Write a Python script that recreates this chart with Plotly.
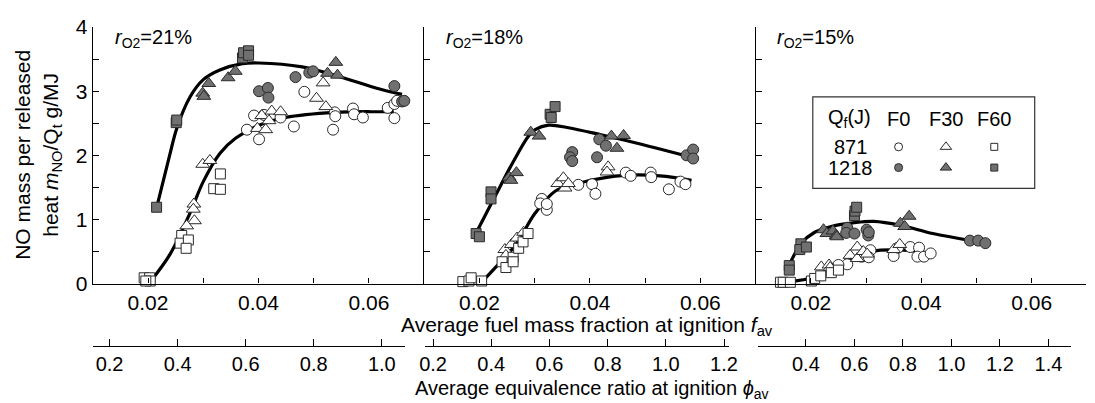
import plotly.graph_objects as go

# ---------------- data (f_av, NO g/MJ) ----------------
# panel r_O2 = 21 %
p21_F0_871 = [(0.0392, 2.62), (0.0379, 2.40), (0.0401, 2.25), (0.0410, 2.63), (0.0440, 2.59),
              (0.0464, 2.45), (0.0483, 2.99), (0.0535, 2.40), (0.0538, 2.67), (0.0539, 2.61),
              (0.0571, 2.73), (0.0573, 2.64), (0.0589, 2.59), (0.0634, 2.74), (0.0646, 2.80),
              (0.0651, 2.85), (0.0646, 2.58)]
p21_F30_871 = [(0.0299, 1.86), (0.0312, 1.92), (0.0283, 1.24), (0.0282, 1.16), (0.0284, 0.98),
               (0.0270, 0.90), (0.0398, 2.42), (0.0406, 2.62), (0.0413, 2.40), (0.0419, 2.54),
               (0.0424, 2.69), (0.0440, 2.68), (0.0505, 2.89), (0.0517, 3.13), (0.0522, 2.76)]
p21_F60_871 = [(0.0193, 0.09), (0.0203, 0.09), (0.0204, 0.04), (0.0196, 0.04), (0.0261, 0.75),
               (0.0258, 0.63), (0.0273, 0.68), (0.0269, 0.55), (0.0319, 1.48), (0.0331, 1.47),
               (0.0331, 1.71)]
p21_F0_1218 = [(0.0401, 3.00), (0.0417, 3.05), (0.0418, 2.90), (0.0467, 3.22), (0.0492, 3.29),
               (0.0499, 3.31), (0.0646, 3.08), (0.0660, 2.84), (0.0664, 2.85)]
p21_F30_1218 = [(0.0310, 3.12), (0.0299, 2.97), (0.0301, 2.92), (0.0345, 3.21), (0.0358, 3.31),
                (0.0525, 3.28), (0.0540, 3.45), (0.0543, 3.25)]
p21_F60_1218 = [(0.02155, 1.19), (0.0251, 2.51), (0.0252, 2.55), (0.0371, 3.52), (0.0373, 3.60),
                (0.0382, 3.63), (0.0382, 3.56)]
p21_fit_871 = [(0.0205, 0.04), (0.0240, 0.46), (0.0276, 1.10), (0.0300, 1.59), (0.0330, 2.03),
               (0.0359, 2.27), (0.0401, 2.47), (0.0449, 2.59), (0.0538, 2.67), (0.0621, 2.68),
               (0.0645, 2.68)]
p21_fit_1218 = [(0.0216, 1.20), (0.0240, 2.03), (0.0252, 2.42), (0.0276, 2.91), (0.0300, 3.18),
                (0.0330, 3.33), (0.0371, 3.43), (0.0401, 3.44), (0.0479, 3.38), (0.0538, 3.25),
                (0.0621, 3.03), (0.0660, 2.95)]

# panel r_O2 = 18 %
p18_F0_871 = [(0.0313, 1.32), (0.0310, 1.25), (0.0322, 1.15), (0.0322, 1.24), (0.0379, 1.54),
              (0.0404, 1.55), (0.0410, 1.40), (0.0465, 1.73), (0.0474, 1.68), (0.0510, 1.73),
              (0.0511, 1.66), (0.0543, 1.47), (0.0564, 1.59), (0.0573, 1.55)]
p18_F30_871 = [(0.0342, 1.56), (0.0352, 1.65), (0.0355, 1.49), (0.0361, 1.56), (0.0433, 1.82),
               (0.0431, 1.74), (0.0246, 0.53), (0.0248, 0.44), (0.0258, 0.61), (0.0268, 0.71),
               (0.0280, 0.80)]
p18_F60_871 = [(0.0170, 0.03), (0.0181, 0.04), (0.0185, 0.09), (0.0204, 0.04), (0.0241, 0.34),
               (0.0248, 0.25), (0.0261, 0.41), (0.0261, 0.34), (0.0271, 0.55), (0.0279, 0.65),
               (0.0288, 0.78)]
p18_F0_1218 = [(0.0368, 2.05), (0.0364, 1.97), (0.0368, 1.91), (0.0417, 2.25), (0.0429, 2.15),
               (0.0413, 1.97), (0.0575, 2.00), (0.0587, 2.09), (0.0587, 1.95)]
p18_F30_1218 = [(0.0254, 1.66), (0.0257, 1.61), (0.0267, 1.73), (0.0293, 2.36), (0.0308, 2.30),
                (0.0439, 2.30), (0.0461, 2.31), (0.0449, 2.11)]
p18_F60_1218 = [(0.0194, 0.78), (0.0200, 0.73), (0.0221, 1.43), (0.0221, 1.32), (0.0328, 2.64),
                (0.0330, 2.59), (0.0337, 2.76)]
p18_fit_871 = [(0.0206, 0.04), (0.0230, 0.26), (0.0266, 0.61), (0.0301, 1.10), (0.0337, 1.44),
               (0.0373, 1.55), (0.0420, 1.64), (0.0468, 1.69), (0.0527, 1.68), (0.0584, 1.61)]
p18_fit_1218 = [(0.0197, 0.84), (0.0230, 1.39), (0.0260, 1.88), (0.0289, 2.30), (0.0301, 2.40),
                (0.0325, 2.47), (0.0361, 2.43), (0.0420, 2.32), (0.0480, 2.20), (0.0575, 1.99)]

# panel r_O2 = 15 %
p15_F0_871 = [(0.0266, 0.30), (0.0250, 0.29), (0.0292, 0.42), (0.0308, 0.52), (0.0305, 0.41),
              (0.0350, 0.43), (0.0358, 0.56), (0.0380, 0.57), (0.0396, 0.56), (0.0393, 0.42),
              (0.0405, 0.42), (0.0417, 0.47)]
p15_F30_871 = [(0.0219, 0.26), (0.0233, 0.29), (0.0235, 0.25), (0.0271, 0.44), (0.0284, 0.57),
               (0.0284, 0.39), (0.0295, 0.50), (0.0302, 0.46), (0.0350, 0.53), (0.0361, 0.61)]
p15_F60_871 = [(0.0145, 0.02), (0.0150, 0.02), (0.0163, 0.02), (0.0201, 0.04), (0.0207, 0.08),
               (0.0218, 0.12), (0.0237, 0.17), (0.0250, 0.21)]
p15_F0_1218 = [(0.0266, 0.87), (0.0264, 0.79), (0.0279, 0.78), (0.0301, 0.84), (0.0304, 0.75),
               (0.0305, 0.80), (0.0488, 0.67), (0.0503, 0.67), (0.0516, 0.63)]
p15_F30_1218 = [(0.0223, 0.84), (0.0229, 0.78), (0.0240, 0.82), (0.0246, 0.75), (0.0247, 0.73),
                (0.0362, 0.94), (0.0370, 0.89), (0.0378, 1.05)]
p15_F60_1218 = [(0.0161, 0.28), (0.0161, 0.21), (0.0182, 0.62), (0.0180, 0.53), (0.0192, 0.57),
                (0.0279, 1.06), (0.0280, 1.13), (0.0283, 1.19)]
p15_fit_871 = [(0.0157, 0.03), (0.0207, 0.10), (0.0255, 0.31), (0.0291, 0.46), (0.0326, 0.52),
               (0.0368, 0.52), (0.0409, 0.48)]
p15_fit_1218 = [(0.0161, 0.29), (0.0183, 0.63), (0.0207, 0.80), (0.0237, 0.89), (0.0279, 0.95),
                (0.0314, 0.97), (0.0362, 0.91), (0.0421, 0.78), (0.0490, 0.67)]

panel_labels = ["21%", "18%", "15%"]
phi_ticks_21 = [0.2, 0.4, 0.6, 0.8, 1.0]
phi_ticks_18 = [0.2, 0.4, 0.6, 0.8, 1.0, 1.2]
phi_ticks_15 = [0.4, 0.6, 0.8, 1.0, 1.2, 1.4]
legend_rows = ["871", "1218"]
legend_cols = ["F0", "F30", "F60"]

# ---------------- styling ----------------
FONT = "Arial, Liberation Sans, sans-serif"
GRAY = "#707070"
EDGE = "#2a2a2a"
W, H = 1095, 403
FS = 21

def px(xp):
    return xp / W

def py(yp):
    return (H - yp) / H

sym = {"F0": "circle", "F30": "triangle-up", "F60": "square"}
size = {"F0": 11, "F30": 12, "F60": 10}
leg_size = {"F0": 8, "F30": 10, "F60": 7}

fig = go.Figure()

panels = [
    (p21_F0_871, p21_F30_871, p21_F60_871, p21_F0_1218, p21_F30_1218, p21_F60_1218, p21_fit_871, p21_fit_1218),
    (p18_F0_871, p18_F30_871, p18_F60_871, p18_F0_1218, p18_F30_1218, p18_F60_1218, p18_fit_871, p18_fit_1218),
    (p15_F0_871, p15_F30_871, p15_F60_871, p15_F0_1218, p15_F30_1218, p15_F60_1218, p15_fit_871, p15_fit_1218),
]

for i, pdat in enumerate(panels):
    xa = "x" if i == 0 else f"x{i+1}"
    ya = "y" if i == 0 else f"y{i+1}"
    f0a, f30a, f60a, f0b, f30b, f60b, fit_a, fit_b = pdat
    for fit in (fit_a, fit_b):
        fig.add_trace(go.Scatter(x=[p[0] for p in fit], y=[p[1] for p in fit], mode="lines",
                                 line=dict(color="black", width=3.2, shape="spline", smoothing=1.0),
                                 xaxis=xa, yaxis=ya, showlegend=False, hoverinfo="skip",
                                 cliponaxis=False))
    for name, d, filled in (("F0", f0a, False), ("F30", f30a, False), ("F60", f60a, False),
                            ("F0", f0b, True), ("F30", f30b, True), ("F60", f60b, True)):
        fig.add_trace(go.Scatter(x=[p[0] for p in d], y=[p[1] for p in d], mode="markers",
                                 marker=dict(symbol=sym[name], size=size[name],
                                             color=GRAY if filled else "white",
                                             line=dict(color=EDGE, width=1)),
                                 xaxis=xa, yaxis=ya, showlegend=False, cliponaxis=False))

# dummy traces to register the equivalence-ratio axes
for k in (4, 5, 6):
    fig.add_trace(go.Scatter(x=[], y=[], xaxis=f"x{k}", yaxis="y", showlegend=False))

axis_common = dict(showline=True, linecolor="black", linewidth=1.3, ticks="inside",
                   tickcolor="black", showgrid=False, zeroline=False)
tickfont_main = dict(family=FONT, size=FS, color="black")
tickfont_phi = dict(family=FONT, size=20, color="black")

x_domains = [(88, 424), (424, 760), (760, 1095)]
x_ranges = [(0.01, 0.07), (0.01, 0.07), (0.01, 0.01 + 335 / 5600)]
ydom = [py(288), py(16)]
for i in range(3):
    key = "xaxis" if i == 0 else f"xaxis{i+1}"
    ykey = "yaxis" if i == 0 else f"yaxis{i+1}"
    anc_y = "y" if i == 0 else f"y{i+1}"
    anc_x = "x" if i == 0 else f"x{i+1}"
    fig.layout[key] = dict(domain=[px(x_domains[i][0]), px(x_domains[i][1])], range=list(x_ranges[i]),
                           anchor=anc_y, tickmode="linear", tick0=0, dtick=0.02, ticklen=5,
                           tickfont=tickfont_main,
                           minor=dict(dtick=0.01, tick0=0, ticks="inside", ticklen=5, tickcolor="black",
                                      showgrid=False),
                           **axis_common)
    fig.layout[ykey] = dict(domain=ydom, range=[0, 4], anchor=anc_x, tickmode="linear", tick0=0,
                            dtick=1, ticklen=6, tickfont=tickfont_main,
                            minor=dict(dtick=0.5, tick0=0, ticks="inside", ticklen=6, tickcolor="black",
                                       showgrid=False),
                            showticklabels=(i == 0), **axis_common)

phi_specs = [
    ((88, 405), (0.2 - 17 / 345, 0.2 + 300 / 345), phi_ticks_21),
    ((425, 733), (0.2 - 8 / 295, 1.2 + 5 / 295), phi_ticks_18),
    ((762, 1080), (0.4 - 49 / 246, 1.4 + 23 / 246), phi_ticks_15),
]
for k, (dom, rng, tv) in zip((4, 5, 6), phi_specs):
    fig.layout[f"xaxis{k}"] = dict(domain=[px(dom[0]), px(dom[1])], range=list(rng), anchor="free",
                                   position=py(354), tickmode="array", tickvals=tv,
                                   ticktext=[f"{v:.1f}" for v in tv], ticklen=7,
                                   tickfont=tickfont_phi, **axis_common)

ann = []
for i, lab in enumerate(panel_labels):
    ann.append(dict(x=px(x_domains[i][0] + 20), y=py(28), xref="paper", yref="paper",
                    xanchor="left", yanchor="middle", showarrow=False,
                    text=f"<i>r</i><sub>O2</sub>={lab}", font=dict(family=FONT, size=20, color="black")))
ann.append(dict(x=px(589), y=py(333), xref="paper", yref="paper", xanchor="center", yanchor="middle",
                showarrow=False, text="Average fuel mass fraction at ignition <i>f</i><sub>av</sub>",
                font=dict(family=FONT, size=FS, color="black")))
ann.append(dict(x=px(594), y=py(400), xref="paper", yref="paper", xanchor="center", yanchor="middle",
                showarrow=False, text="Average equivalence ratio at ignition <i>ϕ</i><sub>av</sub>",
                font=dict(family=FONT, size=20, color="black")))
ann.append(dict(x=px(33), y=py(152), xref="paper", yref="paper", xanchor="center", yanchor="middle",
                showarrow=False, textangle=-90,
                text="NO mass per released<br>heat <i>m</i><sub>NO</sub>/Q<sub>t</sub> g/MJ",
                font=dict(family=FONT, size=FS, color="black")))

# custom legend box
LX0, LX1, LY0, LY1 = 818, 1043, 90, 187
shapes = [dict(type="rect", xref="paper", yref="paper", x0=px(LX0), x1=px(LX1), y0=py(LY1), y1=py(LY0),
               line=dict(color="#333333", width=1.2), fillcolor="white", layer="below")]
col_x = [905, 953, 1002]
row_y = [143, 165]
ann.append(dict(x=px(855), y=py(113), xref="paper", yref="paper", xanchor="center", yanchor="middle",
                showarrow=False, text="Q<sub>f</sub>(J)", font=dict(family=FONT, size=20, color="black")))
for cx, c in zip(col_x, legend_cols):
    ann.append(dict(x=px(cx), y=py(113), xref="paper", yref="paper", xanchor="center", yanchor="middle",
                    showarrow=False, text=c, font=dict(family=FONT, size=20, color="black")))
for ry, r in zip(row_y, legend_rows):
    ann.append(dict(x=px(856), y=py(ry), xref="paper", yref="paper", xanchor="center", yanchor="middle",
                    showarrow=False, text=r, font=dict(family=FONT, size=20, color="black")))

# legend symbols on an overlay axis pair covering the legend box
fig.layout["xaxis7"] = dict(domain=[px(LX0), px(LX1)], range=[LX0, LX1], visible=False, anchor="y7")
fig.layout["yaxis7"] = dict(domain=[py(LY1), py(LY0)], range=[LY1, LY0], visible=False, anchor="x7")
for ri, ry in enumerate(row_y):
    for cx, c in zip(col_x, legend_cols):
        fig.add_trace(go.Scatter(x=[cx], y=[ry], mode="markers", xaxis="x7", yaxis="y7",
                                 marker=dict(symbol=sym[c], size=leg_size[c],
                                             color=GRAY if ri == 1 else "white",
                                             line=dict(color=EDGE, width=1)),
                                 showlegend=False, hoverinfo="skip"))

fig.update_layout(width=W, height=H, margin=dict(l=0, r=0, t=0, b=0),
                  paper_bgcolor="white", plot_bgcolor="rgba(0,0,0,0)",
                  annotations=ann, shapes=shapes, showlegend=False,
                  font=dict(family=FONT, size=20, color="black"))

fig.write_html("out.html")
